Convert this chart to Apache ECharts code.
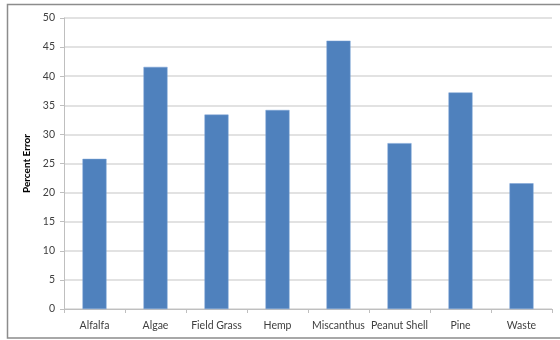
<!DOCTYPE html>
<html>
<head>
<meta charset="utf-8">
<script src="https://cdn.jsdelivr.net/npm/echarts@6/dist/echarts.min.js"></script>
<style>
  html, body { margin: 0; padding: 0; background: #fff; }
  #chart { width: 560px; height: 340px; }
</style>
</head>
<body>
<div id="chart"></div>
<script>
// Feedstock categories and their percent error
const categories = ['Alfalfa', 'Algae', 'Field Grass', 'Hemp', 'Miscanthus', 'Peanut Shell', 'Pine', 'Waste'];
const percentError = [25.8, 41.6, 33.4, 34.2, 46.1, 28.5, 37.2, 21.6];
const yTicks = { min: 0, max: 50, interval: 5 };

const chart = echarts.init(document.getElementById('chart'));
const font = 'Lato, "Open Sans", sans-serif';

chart.setOption({
  animation: false,
  backgroundColor: '#fff',
  graphic: [{
    type: 'rect',
    shape: { x: 7.5, y: 4.5, width: 570, height: 333.5 },
    style: { fill: 'none', stroke: '#8c8c8c', lineWidth: 1.5 },
    silent: true
  }],
  grid: { left: 64, right: 8, top: 18, bottom: 31, containLabel: false },
  xAxis: {
    type: 'category',
    data: categories,
    boundaryGap: true,
    axisLine: { lineStyle: { color: '#bfbfbf', width: 1 } },
    axisTick: { show: true, length: 4, lineStyle: { color: '#bfbfbf' } },
    axisLabel: { color: '#404040', fontFamily: font, fontSize: 10.5, margin: 11, interval: 0 }
  },
  yAxis: {
    type: 'value',
    min: yTicks.min,
    max: yTicks.max,
    interval: yTicks.interval,
    name: 'Percent Error',
    nameLocation: 'middle',
    nameGap: 24,
    nameRotate: 90,
    nameTextStyle: { color: '#000', fontFamily: font, fontSize: 10, fontWeight: 'bold' },
    axisLine: { show: true, lineStyle: { color: '#bfbfbf', width: 1 } },
    axisTick: { show: true, length: 4, lineStyle: { color: '#bfbfbf' } },
    axisLabel: { color: '#404040', fontFamily: font, fontSize: 10.5, margin: 9 },
    splitLine: { show: true, lineStyle: { color: '#d9d9d9', width: 1.5 } }
  },
  series: [{
    type: 'bar',
    data: percentError,
    barWidth: 24,
    itemStyle: { color: '#4f81bd', borderColor: '#7aa3d6', borderWidth: 0.5 }
  }]
});
</script>
</body>
</html>
